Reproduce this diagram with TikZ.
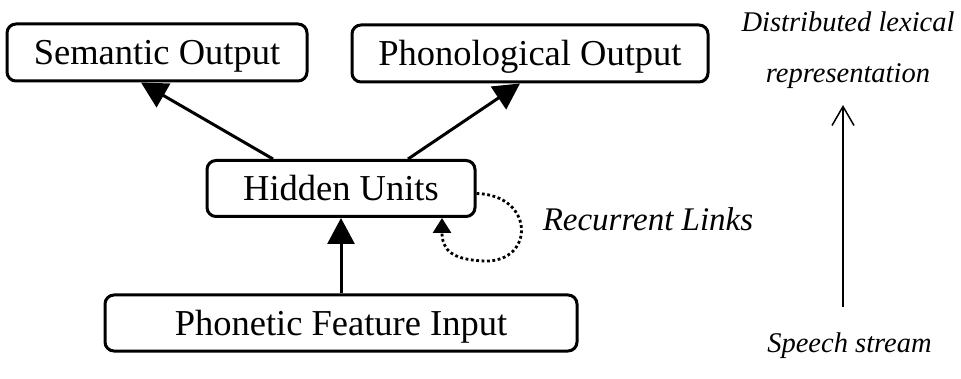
\documentclass[tikz,border=0pt]{standalone}
\usepackage{fontspec}
\setmainfont{Liberation Serif}
\usetikzlibrary{arrows.meta}
\begin{document}
\begin{tikzpicture}[x=1pt,y=-1pt,
  unit/.style={draw, line width=3pt, rounded corners=9pt, fill=white, inner sep=0pt,
    font=\fontsize{36.5}{40}\selectfont, text height=24pt, text depth=0pt},
  link/.style={line width=3pt, -{Triangle[length=26pt,width=27pt]}},
  loopback/.style={line width=2.8pt, dash pattern=on 2.8pt off 2.6pt,
    -{Triangle[length=15pt,width=18pt]}},
  note/.style={font=\fontsize{28.5}{51}\selectfont\itshape, inner sep=0pt, align=center},
]
\useasboundingbox (0,0) rectangle (961,379);

% layers of the network
\node[unit, minimum width=300pt, minimum height=57pt] (sem) at (157,52.5) {Semantic Output};
\node[unit, minimum width=356pt, minimum height=57pt] (pho) at (530,53.5) {Phonological Output};
\node[unit, minimum width=268pt, minimum height=56pt] (hid) at (341,188.5) {Hidden Units};
\node[unit, minimum width=472pt, minimum height=56pt] (inp) at (341,323) {Phonetic Feature Input};

% feed-forward connections
\draw[link] ([xshift=-68pt]hid.north) -- ([xshift=-16pt]sem.south);
\draw[link] ([xshift=67pt]hid.north) -- ([xshift=-10pt]pho.south);
\draw[link] (inp.north) -- (hid.south);

% recurrent connection of the hidden layer
\draw[loopback] ([yshift=-5pt]hid.east) .. controls (535,195) and (535,262) .. (485,261)
  .. controls (452,260) and (442,250) .. ([xshift=101pt]hid.south);

% annotations
\node[note] (dist) at (848,50) {Distributed lexical\\representation};
\node[note, font=\fontsize{33}{40}\selectfont\itshape] (rec) at (648,219) {Recurrent Links};
\node[note] (sp) at (849.5,346) {Speech stream};
\coordinate (sbot) at (843,307);
\coordinate (stop) at (843,105);
\draw[line width=1.5pt, -{Straight Barb[length=19pt,width=22pt]}] (sbot) -- (stop);
\end{tikzpicture}
\end{document}
